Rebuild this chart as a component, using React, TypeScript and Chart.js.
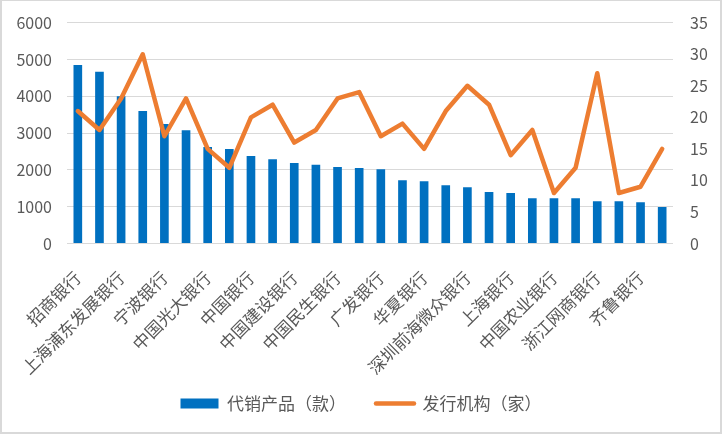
import React, { useEffect, useRef } from 'react';
import { Chart, registerables } from 'chart.js';

Chart.register(...registerables);

// Only every other category name is printed on the reference axis; the hidden ones are unreadable.
const categories = [
  '招商银行', '', '上海浦东发展银行', '', '宁波银行', '', '中国光大银行', '',
  '中国银行', '', '中国建设银行', '', '中国民生银行', '', '广发银行', '',
  '华夏银行', '', '深圳前海微众银行', '', '上海银行', '', '中国农业银行', '',
  '浙江网商银行', '', '齐鲁银行', '',
];
const productCounts = [
  4850, 4670, 4000, 3600, 3250, 3080, 2620, 2570, 2380, 2290, 2190, 2140, 2080, 2050,
  2020, 1720, 1690, 1580, 1530, 1400, 1370, 1230, 1230, 1230, 1150, 1150, 1120, 990,
];
const issuerCounts = [
  21, 18, 23, 30, 17, 23, 15, 12, 20, 22, 16, 18, 23, 24,
  17, 19, 15, 21, 25, 22, 14, 18, 8, 12, 27, 8, 9, 15,
];
const seriesNames = ['代销产品（款）', '发行机构（家）'];
const leftAxis = { min: 0, max: 6000, step: 1000 };
const rightAxis = { min: 0, max: 35, step: 5 };

const BLUE = '#0070C0';
const ORANGE = '#ED7D31';
const TEXT = '#595959';
const GRID = '#d9d9d9';

export default function App() {
  const ref = useRef<HTMLCanvasElement | null>(null);

  useEffect(() => {
    document.body.style.margin = '0';
    const canvas = ref.current;
    if (!canvas) return;
    Chart.defaults.font.family = '"Noto Sans CJK SC", "Noto Sans", sans-serif';
    Chart.defaults.color = TEXT;

    const chart = new Chart(canvas, {
      type: 'bar',
      data: {
        labels: categories,
        datasets: [
          {
            type: 'bar',
            label: seriesNames[0],
            data: productCounts,
            backgroundColor: BLUE,
            borderWidth: 0,
            yAxisID: 'y',
            order: 1,
            barPercentage: 0.4,
            categoryPercentage: 1,
            pointStyle: 'rect',
          } as any,
          {
            type: 'line',
            label: seriesNames[1],
            data: issuerCounts,
            borderColor: ORANGE,
            backgroundColor: ORANGE,
            borderWidth: 4.5,
            pointRadius: 0,
            pointHoverRadius: 0,
            pointBorderWidth: 4.5,
            pointBorderColor: ORANGE,
            tension: 0,
            yAxisID: 'y1',
            order: 0,
            borderCapStyle: 'round',
            borderJoinStyle: 'round',
            pointStyle: 'line',
          } as any,
        ],
      },
      options: {
        animation: false,
        responsive: true,
        maintainAspectRatio: false,
        layout: { padding: { top: 21.7, bottom: 10, left: 0, right: 0 } },
        plugins: {
          legend: {
            position: 'bottom',
            labels: {
              usePointStyle: true,
              pointStyleWidth: 38,
              boxHeight: 10,
              padding: 30,
              color: TEXT,
              font: { size: 17 },
              sort: (a: any, b: any) => a.datasetIndex - b.datasetIndex,
              generateLabels: (c: any) => {
                const items = Chart.defaults.plugins.legend.labels.generateLabels(c);
                items.forEach((it: any) => {
                  if (it.datasetIndex === 1) {
                    it.pointStyle = 'line';
                    it.lineWidth = 4.5;
                    it.lineCap = 'round';
                    it.strokeStyle = ORANGE;
                    it.fillStyle = ORANGE;
                  } else {
                    it.pointStyle = 'rect';
                    it.lineWidth = 0;
                    it.fillStyle = BLUE;
                  }
                });
                return items;
              },
            },
          },
          tooltip: { enabled: false },
        },
        scales: {
          x: {
            grid: { display: false },
            border: { display: false },
            ticks: {
              autoSkip: false,
              minRotation: 45,
              maxRotation: 45,
              padding: 16,
              labelOffset: 0,
              color: TEXT,
              font: { size: 17 },
            },
            afterFit: (s: any) => {
              s.height = 121.5;
            },
            afterUpdate: (s: any) => {
              // let long rotated labels run past the axis box, as in the reference
              s._computeLabelArea = () => undefined;
            },
          },
          y: {
            position: 'left',
            min: leftAxis.min,
            max: leftAxis.max,
            ticks: {
              stepSize: leftAxis.step,
              padding: 15,
              color: TEXT,
              font: { size: 16 },
              callback: (v: any) => String(v),
            },
            grid: { color: GRID, lineWidth: 1, drawTicks: false },
            border: { display: false },
            afterFit: (s: any) => {
              s.width = 65;
              s.paddingTop = 0;
              s.paddingBottom = 0;
            },
          },
          y1: {
            position: 'right',
            min: rightAxis.min,
            max: rightAxis.max,
            ticks: {
              stepSize: rightAxis.step,
              padding: 17,
              color: TEXT,
              font: { size: 16 },
              callback: (v: any) => String(v),
            },
            grid: { display: false, drawTicks: false },
            border: { display: false },
            afterFit: (s: any) => {
              s.width = 47;
              s.paddingTop = 0;
              s.paddingBottom = 0;
            },
          },
        },
      } as any,
    });
    return () => chart.destroy();
  }, []);

  return (
    <div
      style={{
        width: 722,
        height: 434,
        boxSizing: 'border-box',
        borderTop: `1px solid ${GRID}`,
        borderLeft: `2px solid ${GRID}`,
        borderRight: `2px solid ${GRID}`,
        borderBottom: `2px solid ${GRID}`,
        background: '#fff',
      }}
    >
      <div style={{ position: 'relative', width: 718, height: 431 }}>
        <canvas ref={ref} />
      </div>
    </div>
  );
}
